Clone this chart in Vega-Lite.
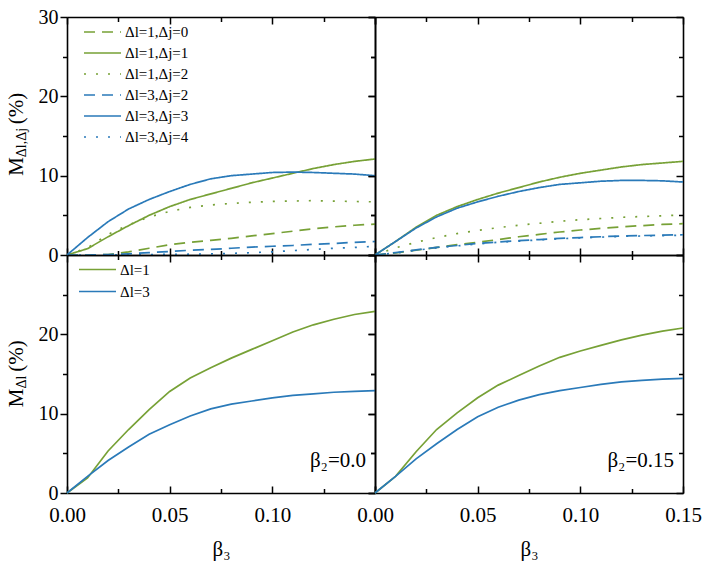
{
  "$schema": "https://vega.github.io/schema/vega-lite/v6.json",
  "background": "white",
  "padding": {"left": 5, "top": 7, "right": 5, "bottom": 5},
  "spacing": 0,
  "bounds": "flush",
  "columns": 2,
  "datasets": {
    "tl": [
      {"s": "Δl=1,Δj=0", "b3": 0, "m": 0}, {"s": "Δl=1,Δj=0", "b3": 0.01, "m": 0}, {"s": "Δl=1,Δj=0", "b3": 0.02, "m": 0.05}, {"s": "Δl=1,Δj=0", "b3": 0.03, "m": 0.4}, {"s": "Δl=1,Δj=0", "b3": 0.04, "m": 0.85}, {"s": "Δl=1,Δj=0", "b3": 0.05, "m": 1.3}, {"s": "Δl=1,Δj=0", "b3": 0.06, "m": 1.6}, {"s": "Δl=1,Δj=0", "b3": 0.07, "m": 1.85}, {"s": "Δl=1,Δj=0", "b3": 0.08, "m": 2.1}, {"s": "Δl=1,Δj=0", "b3": 0.09, "m": 2.4}, {"s": "Δl=1,Δj=0", "b3": 0.1, "m": 2.7}, {"s": "Δl=1,Δj=0", "b3": 0.11, "m": 3.0}, {"s": "Δl=1,Δj=0", "b3": 0.12, "m": 3.3}, {"s": "Δl=1,Δj=0", "b3": 0.13, "m": 3.55}, {"s": "Δl=1,Δj=0", "b3": 0.14, "m": 3.75}, {"s": "Δl=1,Δj=0", "b3": 0.15, "m": 3.9},
      {"s": "Δl=1,Δj=1", "b3": 0, "m": 0}, {"s": "Δl=1,Δj=1", "b3": 0.01, "m": 0.8}, {"s": "Δl=1,Δj=1", "b3": 0.02, "m": 2.3}, {"s": "Δl=1,Δj=1", "b3": 0.03, "m": 3.7}, {"s": "Δl=1,Δj=1", "b3": 0.04, "m": 5.0}, {"s": "Δl=1,Δj=1", "b3": 0.05, "m": 6.1}, {"s": "Δl=1,Δj=1", "b3": 0.06, "m": 7.0}, {"s": "Δl=1,Δj=1", "b3": 0.07, "m": 7.7}, {"s": "Δl=1,Δj=1", "b3": 0.08, "m": 8.4}, {"s": "Δl=1,Δj=1", "b3": 0.09, "m": 9.1}, {"s": "Δl=1,Δj=1", "b3": 0.1, "m": 9.7}, {"s": "Δl=1,Δj=1", "b3": 0.11, "m": 10.3}, {"s": "Δl=1,Δj=1", "b3": 0.12, "m": 10.9}, {"s": "Δl=1,Δj=1", "b3": 0.13, "m": 11.4}, {"s": "Δl=1,Δj=1", "b3": 0.14, "m": 11.8}, {"s": "Δl=1,Δj=1", "b3": 0.15, "m": 12.1},
      {"s": "Δl=1,Δj=2", "b3": 0, "m": 0}, {"s": "Δl=1,Δj=2", "b3": 0.01, "m": 0.9}, {"s": "Δl=1,Δj=2", "b3": 0.02, "m": 2.6}, {"s": "Δl=1,Δj=2", "b3": 0.03, "m": 3.8}, {"s": "Δl=1,Δj=2", "b3": 0.04, "m": 4.8}, {"s": "Δl=1,Δj=2", "b3": 0.05, "m": 5.5}, {"s": "Δl=1,Δj=2", "b3": 0.06, "m": 6.0}, {"s": "Δl=1,Δj=2", "b3": 0.07, "m": 6.3}, {"s": "Δl=1,Δj=2", "b3": 0.08, "m": 6.5}, {"s": "Δl=1,Δj=2", "b3": 0.09, "m": 6.65}, {"s": "Δl=1,Δj=2", "b3": 0.1, "m": 6.75}, {"s": "Δl=1,Δj=2", "b3": 0.11, "m": 6.8}, {"s": "Δl=1,Δj=2", "b3": 0.12, "m": 6.85}, {"s": "Δl=1,Δj=2", "b3": 0.13, "m": 6.8}, {"s": "Δl=1,Δj=2", "b3": 0.14, "m": 6.75}, {"s": "Δl=1,Δj=2", "b3": 0.15, "m": 6.7},
      {"s": "Δl=3,Δj=2", "b3": 0, "m": 0}, {"s": "Δl=3,Δj=2", "b3": 0.01, "m": 0}, {"s": "Δl=3,Δj=2", "b3": 0.02, "m": 0.05}, {"s": "Δl=3,Δj=2", "b3": 0.03, "m": 0.15}, {"s": "Δl=3,Δj=2", "b3": 0.04, "m": 0.3}, {"s": "Δl=3,Δj=2", "b3": 0.05, "m": 0.45}, {"s": "Δl=3,Δj=2", "b3": 0.06, "m": 0.6}, {"s": "Δl=3,Δj=2", "b3": 0.07, "m": 0.7}, {"s": "Δl=3,Δj=2", "b3": 0.08, "m": 0.85}, {"s": "Δl=3,Δj=2", "b3": 0.09, "m": 1.0}, {"s": "Δl=3,Δj=2", "b3": 0.1, "m": 1.1}, {"s": "Δl=3,Δj=2", "b3": 0.11, "m": 1.2}, {"s": "Δl=3,Δj=2", "b3": 0.12, "m": 1.35}, {"s": "Δl=3,Δj=2", "b3": 0.13, "m": 1.45}, {"s": "Δl=3,Δj=2", "b3": 0.14, "m": 1.6}, {"s": "Δl=3,Δj=2", "b3": 0.15, "m": 1.7},
      {"s": "Δl=3,Δj=3", "b3": 0, "m": 0}, {"s": "Δl=3,Δj=3", "b3": 0.01, "m": 2.2}, {"s": "Δl=3,Δj=3", "b3": 0.02, "m": 4.2}, {"s": "Δl=3,Δj=3", "b3": 0.03, "m": 5.8}, {"s": "Δl=3,Δj=3", "b3": 0.04, "m": 7.0}, {"s": "Δl=3,Δj=3", "b3": 0.05, "m": 8.0}, {"s": "Δl=3,Δj=3", "b3": 0.06, "m": 8.9}, {"s": "Δl=3,Δj=3", "b3": 0.07, "m": 9.6}, {"s": "Δl=3,Δj=3", "b3": 0.08, "m": 10.0}, {"s": "Δl=3,Δj=3", "b3": 0.09, "m": 10.2}, {"s": "Δl=3,Δj=3", "b3": 0.1, "m": 10.4}, {"s": "Δl=3,Δj=3", "b3": 0.11, "m": 10.45}, {"s": "Δl=3,Δj=3", "b3": 0.12, "m": 10.4}, {"s": "Δl=3,Δj=3", "b3": 0.13, "m": 10.3}, {"s": "Δl=3,Δj=3", "b3": 0.14, "m": 10.2}, {"s": "Δl=3,Δj=3", "b3": 0.15, "m": 10.0},
      {"s": "Δl=3,Δj=4", "b3": 0, "m": 0}, {"s": "Δl=3,Δj=4", "b3": 0.01, "m": 0}, {"s": "Δl=3,Δj=4", "b3": 0.02, "m": 0}, {"s": "Δl=3,Δj=4", "b3": 0.03, "m": 0.02}, {"s": "Δl=3,Δj=4", "b3": 0.04, "m": 0.05}, {"s": "Δl=3,Δj=4", "b3": 0.05, "m": 0.08}, {"s": "Δl=3,Δj=4", "b3": 0.06, "m": 0.1}, {"s": "Δl=3,Δj=4", "b3": 0.07, "m": 0.15}, {"s": "Δl=3,Δj=4", "b3": 0.08, "m": 0.2}, {"s": "Δl=3,Δj=4", "b3": 0.09, "m": 0.3}, {"s": "Δl=3,Δj=4", "b3": 0.1, "m": 0.4}, {"s": "Δl=3,Δj=4", "b3": 0.11, "m": 0.55}, {"s": "Δl=3,Δj=4", "b3": 0.12, "m": 0.7}, {"s": "Δl=3,Δj=4", "b3": 0.13, "m": 0.85}, {"s": "Δl=3,Δj=4", "b3": 0.14, "m": 0.95}, {"s": "Δl=3,Δj=4", "b3": 0.15, "m": 1.1}
    ],
    "tr": [
      {"s": "Δl=1,Δj=0", "b3": 0, "m": 0}, {"s": "Δl=1,Δj=0", "b3": 0.01, "m": 0.25}, {"s": "Δl=1,Δj=0", "b3": 0.02, "m": 0.6}, {"s": "Δl=1,Δj=0", "b3": 0.03, "m": 0.95}, {"s": "Δl=1,Δj=0", "b3": 0.04, "m": 1.3}, {"s": "Δl=1,Δj=0", "b3": 0.05, "m": 1.6}, {"s": "Δl=1,Δj=0", "b3": 0.06, "m": 1.95}, {"s": "Δl=1,Δj=0", "b3": 0.07, "m": 2.3}, {"s": "Δl=1,Δj=0", "b3": 0.08, "m": 2.6}, {"s": "Δl=1,Δj=0", "b3": 0.09, "m": 2.9}, {"s": "Δl=1,Δj=0", "b3": 0.1, "m": 3.15}, {"s": "Δl=1,Δj=0", "b3": 0.11, "m": 3.35}, {"s": "Δl=1,Δj=0", "b3": 0.12, "m": 3.55}, {"s": "Δl=1,Δj=0", "b3": 0.13, "m": 3.7}, {"s": "Δl=1,Δj=0", "b3": 0.14, "m": 3.85}, {"s": "Δl=1,Δj=0", "b3": 0.15, "m": 3.95},
      {"s": "Δl=1,Δj=1", "b3": 0, "m": 0}, {"s": "Δl=1,Δj=1", "b3": 0.01, "m": 1.7}, {"s": "Δl=1,Δj=1", "b3": 0.02, "m": 3.5}, {"s": "Δl=1,Δj=1", "b3": 0.03, "m": 5.0}, {"s": "Δl=1,Δj=1", "b3": 0.04, "m": 6.1}, {"s": "Δl=1,Δj=1", "b3": 0.05, "m": 7.0}, {"s": "Δl=1,Δj=1", "b3": 0.06, "m": 7.8}, {"s": "Δl=1,Δj=1", "b3": 0.07, "m": 8.5}, {"s": "Δl=1,Δj=1", "b3": 0.08, "m": 9.2}, {"s": "Δl=1,Δj=1", "b3": 0.09, "m": 9.8}, {"s": "Δl=1,Δj=1", "b3": 0.1, "m": 10.3}, {"s": "Δl=1,Δj=1", "b3": 0.11, "m": 10.7}, {"s": "Δl=1,Δj=1", "b3": 0.12, "m": 11.1}, {"s": "Δl=1,Δj=1", "b3": 0.13, "m": 11.4}, {"s": "Δl=1,Δj=1", "b3": 0.14, "m": 11.6}, {"s": "Δl=1,Δj=1", "b3": 0.15, "m": 11.8},
      {"s": "Δl=1,Δj=2", "b3": 0, "m": 0}, {"s": "Δl=1,Δj=2", "b3": 0.01, "m": 0.9}, {"s": "Δl=1,Δj=2", "b3": 0.02, "m": 1.6}, {"s": "Δl=1,Δj=2", "b3": 0.03, "m": 2.2}, {"s": "Δl=1,Δj=2", "b3": 0.04, "m": 2.7}, {"s": "Δl=1,Δj=2", "b3": 0.05, "m": 3.1}, {"s": "Δl=1,Δj=2", "b3": 0.06, "m": 3.45}, {"s": "Δl=1,Δj=2", "b3": 0.07, "m": 3.75}, {"s": "Δl=1,Δj=2", "b3": 0.08, "m": 4.0}, {"s": "Δl=1,Δj=2", "b3": 0.09, "m": 4.25}, {"s": "Δl=1,Δj=2", "b3": 0.1, "m": 4.45}, {"s": "Δl=1,Δj=2", "b3": 0.11, "m": 4.6}, {"s": "Δl=1,Δj=2", "b3": 0.12, "m": 4.75}, {"s": "Δl=1,Δj=2", "b3": 0.13, "m": 4.85}, {"s": "Δl=1,Δj=2", "b3": 0.14, "m": 4.95}, {"s": "Δl=1,Δj=2", "b3": 0.15, "m": 5.05},
      {"s": "Δl=3,Δj=2", "b3": 0, "m": 0}, {"s": "Δl=3,Δj=2", "b3": 0.01, "m": 0.3}, {"s": "Δl=3,Δj=2", "b3": 0.02, "m": 0.65}, {"s": "Δl=3,Δj=2", "b3": 0.03, "m": 0.95}, {"s": "Δl=3,Δj=2", "b3": 0.04, "m": 1.2}, {"s": "Δl=3,Δj=2", "b3": 0.05, "m": 1.45}, {"s": "Δl=3,Δj=2", "b3": 0.06, "m": 1.65}, {"s": "Δl=3,Δj=2", "b3": 0.07, "m": 1.8}, {"s": "Δl=3,Δj=2", "b3": 0.08, "m": 1.95}, {"s": "Δl=3,Δj=2", "b3": 0.09, "m": 2.1}, {"s": "Δl=3,Δj=2", "b3": 0.1, "m": 2.2}, {"s": "Δl=3,Δj=2", "b3": 0.11, "m": 2.3}, {"s": "Δl=3,Δj=2", "b3": 0.12, "m": 2.4}, {"s": "Δl=3,Δj=2", "b3": 0.13, "m": 2.45}, {"s": "Δl=3,Δj=2", "b3": 0.14, "m": 2.5}, {"s": "Δl=3,Δj=2", "b3": 0.15, "m": 2.55},
      {"s": "Δl=3,Δj=3", "b3": 0, "m": 0}, {"s": "Δl=3,Δj=3", "b3": 0.01, "m": 1.7}, {"s": "Δl=3,Δj=3", "b3": 0.02, "m": 3.4}, {"s": "Δl=3,Δj=3", "b3": 0.03, "m": 4.8}, {"s": "Δl=3,Δj=3", "b3": 0.04, "m": 5.9}, {"s": "Δl=3,Δj=3", "b3": 0.05, "m": 6.7}, {"s": "Δl=3,Δj=3", "b3": 0.06, "m": 7.4}, {"s": "Δl=3,Δj=3", "b3": 0.07, "m": 8.0}, {"s": "Δl=3,Δj=3", "b3": 0.08, "m": 8.5}, {"s": "Δl=3,Δj=3", "b3": 0.09, "m": 8.9}, {"s": "Δl=3,Δj=3", "b3": 0.1, "m": 9.1}, {"s": "Δl=3,Δj=3", "b3": 0.11, "m": 9.3}, {"s": "Δl=3,Δj=3", "b3": 0.12, "m": 9.4}, {"s": "Δl=3,Δj=3", "b3": 0.13, "m": 9.4}, {"s": "Δl=3,Δj=3", "b3": 0.14, "m": 9.35}, {"s": "Δl=3,Δj=3", "b3": 0.15, "m": 9.2},
      {"s": "Δl=3,Δj=4", "b3": 0, "m": 0}, {"s": "Δl=3,Δj=4", "b3": 0.01, "m": 0.25}, {"s": "Δl=3,Δj=4", "b3": 0.02, "m": 0.6}, {"s": "Δl=3,Δj=4", "b3": 0.03, "m": 0.9}, {"s": "Δl=3,Δj=4", "b3": 0.04, "m": 1.15}, {"s": "Δl=3,Δj=4", "b3": 0.05, "m": 1.4}, {"s": "Δl=3,Δj=4", "b3": 0.06, "m": 1.6}, {"s": "Δl=3,Δj=4", "b3": 0.07, "m": 1.75}, {"s": "Δl=3,Δj=4", "b3": 0.08, "m": 1.9}, {"s": "Δl=3,Δj=4", "b3": 0.09, "m": 2.05}, {"s": "Δl=3,Δj=4", "b3": 0.1, "m": 2.15}, {"s": "Δl=3,Δj=4", "b3": 0.11, "m": 2.25}, {"s": "Δl=3,Δj=4", "b3": 0.12, "m": 2.35}, {"s": "Δl=3,Δj=4", "b3": 0.13, "m": 2.4}, {"s": "Δl=3,Δj=4", "b3": 0.14, "m": 2.45}, {"s": "Δl=3,Δj=4", "b3": 0.15, "m": 2.5}
    ],
    "bl": [
      {"s": "Δl=1", "b3": 0, "m": 0}, {"s": "Δl=1", "b3": 0.01, "m": 1.9}, {"s": "Δl=1", "b3": 0.02, "m": 5.3}, {"s": "Δl=1", "b3": 0.03, "m": 8.0}, {"s": "Δl=1", "b3": 0.04, "m": 10.5}, {"s": "Δl=1", "b3": 0.05, "m": 12.8}, {"s": "Δl=1", "b3": 0.06, "m": 14.5}, {"s": "Δl=1", "b3": 0.07, "m": 15.8}, {"s": "Δl=1", "b3": 0.08, "m": 17.0}, {"s": "Δl=1", "b3": 0.09, "m": 18.1}, {"s": "Δl=1", "b3": 0.1, "m": 19.2}, {"s": "Δl=1", "b3": 0.11, "m": 20.3}, {"s": "Δl=1", "b3": 0.12, "m": 21.2}, {"s": "Δl=1", "b3": 0.13, "m": 21.9}, {"s": "Δl=1", "b3": 0.14, "m": 22.5}, {"s": "Δl=1", "b3": 0.15, "m": 22.9},
      {"s": "Δl=3", "b3": 0, "m": 0}, {"s": "Δl=3", "b3": 0.01, "m": 2.1}, {"s": "Δl=3", "b3": 0.02, "m": 4.1}, {"s": "Δl=3", "b3": 0.03, "m": 5.8}, {"s": "Δl=3", "b3": 0.04, "m": 7.4}, {"s": "Δl=3", "b3": 0.05, "m": 8.6}, {"s": "Δl=3", "b3": 0.06, "m": 9.7}, {"s": "Δl=3", "b3": 0.07, "m": 10.6}, {"s": "Δl=3", "b3": 0.08, "m": 11.2}, {"s": "Δl=3", "b3": 0.09, "m": 11.6}, {"s": "Δl=3", "b3": 0.1, "m": 12.0}, {"s": "Δl=3", "b3": 0.11, "m": 12.3}, {"s": "Δl=3", "b3": 0.12, "m": 12.5}, {"s": "Δl=3", "b3": 0.13, "m": 12.7}, {"s": "Δl=3", "b3": 0.14, "m": 12.8}, {"s": "Δl=3", "b3": 0.15, "m": 12.9}
    ],
    "br": [
      {"s": "Δl=1", "b3": 0, "m": 0}, {"s": "Δl=1", "b3": 0.01, "m": 2.1}, {"s": "Δl=1", "b3": 0.02, "m": 5.2}, {"s": "Δl=1", "b3": 0.03, "m": 8.0}, {"s": "Δl=1", "b3": 0.04, "m": 10.1}, {"s": "Δl=1", "b3": 0.05, "m": 12.0}, {"s": "Δl=1", "b3": 0.06, "m": 13.6}, {"s": "Δl=1", "b3": 0.07, "m": 14.8}, {"s": "Δl=1", "b3": 0.08, "m": 16.0}, {"s": "Δl=1", "b3": 0.09, "m": 17.1}, {"s": "Δl=1", "b3": 0.1, "m": 17.9}, {"s": "Δl=1", "b3": 0.11, "m": 18.6}, {"s": "Δl=1", "b3": 0.12, "m": 19.3}, {"s": "Δl=1", "b3": 0.13, "m": 19.9}, {"s": "Δl=1", "b3": 0.14, "m": 20.4}, {"s": "Δl=1", "b3": 0.15, "m": 20.8},
      {"s": "Δl=3", "b3": 0, "m": 0}, {"s": "Δl=3", "b3": 0.01, "m": 2.1}, {"s": "Δl=3", "b3": 0.02, "m": 4.3}, {"s": "Δl=3", "b3": 0.03, "m": 6.2}, {"s": "Δl=3", "b3": 0.04, "m": 8.0}, {"s": "Δl=3", "b3": 0.05, "m": 9.6}, {"s": "Δl=3", "b3": 0.06, "m": 10.8}, {"s": "Δl=3", "b3": 0.07, "m": 11.7}, {"s": "Δl=3", "b3": 0.08, "m": 12.4}, {"s": "Δl=3", "b3": 0.09, "m": 12.9}, {"s": "Δl=3", "b3": 0.1, "m": 13.3}, {"s": "Δl=3", "b3": 0.11, "m": 13.7}, {"s": "Δl=3", "b3": 0.12, "m": 14.0}, {"s": "Δl=3", "b3": 0.13, "m": 14.2}, {"s": "Δl=3", "b3": 0.14, "m": 14.35}, {"s": "Δl=3", "b3": 0.15, "m": 14.45}
    ]
  },
  "concat": [
    {
      "width": 308, "height": 238,
      "data": {"name": "tl"},
      "layer": [
        {
          "mark": {"type": "line", "strokeWidth": 1.7},
          "encoding": {
            "x": {"field": "b3", "type": "quantitative", "scale": {"domain": [0, 0.15], "nice": false},
              "axis": {"orient": "bottom", "values": [0, 0.05, 0.1, 0.15], "tickSize": -7, "labels": false, "title": null}},
            "y": {"field": "m", "type": "quantitative", "scale": {"domain": [0, 30], "nice": false},
              "axis": {"orient": "left", "values": [0, 10, 20, 30], "tickSize": 7, "labelPadding": 2, "labelFontSize": 20,
                "title": "M", "titleX": -45, "titleY": 149, "titleAngle": 270, "titleAlign": "center", "titleBaseline": "alphabetic"}},
            "color": {"field": "s", "type": "nominal",
              "scale": {"domain": ["Δl=1,Δj=0", "Δl=1,Δj=1", "Δl=1,Δj=2", "Δl=3,Δj=2", "Δl=3,Δj=3", "Δl=3,Δj=4"],
                "range": ["#77a136", "#77a136", "#77a136", "#2a7ab9", "#2a7ab9", "#2a7ab9"]},
              "legend": {"orient": "none", "legendX": 16, "legendY": 4.5, "title": null, "symbolType": "stroke", "symbolSize": 1369, "symbolStrokeWidth": 1.7,
                "labelFontSize": 15, "labelOffset": 3, "clipHeight": 21, "rowPadding": 0, "padding": 0, "labelLimit": 200}},
            "strokeDash": {"field": "s", "type": "nominal",
              "scale": {"domain": ["Δl=1,Δj=0", "Δl=1,Δj=1", "Δl=1,Δj=2", "Δl=3,Δj=2", "Δl=3,Δj=3", "Δl=3,Δj=4"],
                "range": [[11, 7], [1, 0], [2, 10], [11, 7], [1, 0], [2, 10]]},
              "legend": {"orient": "none", "legendX": 16, "legendY": 4.5, "title": null, "symbolType": "stroke", "symbolSize": 1369, "symbolStrokeWidth": 1.7,
                "labelFontSize": 15, "labelOffset": 3, "clipHeight": 21, "rowPadding": 0, "padding": 0, "labelLimit": 200}}
          }
        },
        {
          "mark": {"type": "point", "opacity": 0, "size": 1},
          "encoding": {
            "x": {"field": "b3", "type": "quantitative", "scale": {"domain": [0, 0.15], "nice": false},
              "axis": {"orient": "top", "values": [0, 0.05, 0.1, 0.15], "tickSize": -7, "labels": false, "title": null}},
            "y": {"field": "m", "type": "quantitative", "scale": {"domain": [0, 30], "nice": false},
              "axis": {"orient": "right", "values": [0, 10, 20, 30], "tickSize": -7, "labels": false, "title": null}}
          }
        },
        {
          "mark": {"type": "point", "opacity": 0, "size": 1},
          "encoding": {
            "x": {"field": "b3", "type": "quantitative", "scale": {"domain": [0, 0.15], "nice": false},
              "axis": {"orient": "bottom", "values": [0.025, 0.075, 0.125], "tickSize": -4.5, "labels": false, "domain": false, "title": null}},
            "y": {"field": "m", "type": "quantitative", "scale": {"domain": [0, 30], "nice": false},
              "axis": {"orient": "left", "values": [5, 15, 25], "tickSize": 4.5, "labels": false, "domain": false,
                "title": "Δl,Δj", "titleFontSize": 14, "titleX": -42, "titleY": 125, "titleAngle": 270, "titleAlign": "center", "titleBaseline": "alphabetic"}}
          }
        },
        {
          "mark": {"type": "point", "opacity": 0, "size": 1},
          "encoding": {
            "x": {"field": "b3", "type": "quantitative", "scale": {"domain": [0, 0.15], "nice": false},
              "axis": {"orient": "top", "values": [0.025, 0.075, 0.125], "tickSize": -4.5, "labels": false, "domain": false, "title": null}},
            "y": {"field": "m", "type": "quantitative", "scale": {"domain": [0, 30], "nice": false},
              "axis": {"orient": "right", "values": [5, 15, 25], "tickSize": -4.5, "labels": false, "domain": false, "title": null}}
          }
        },
        {
          "mark": {"type": "point", "opacity": 0, "size": 1},
          "encoding": {
            "x": {"field": "b3", "type": "quantitative", "scale": {"domain": [0, 0.15], "nice": false}, "axis": null},
            "y": {"field": "m", "type": "quantitative", "scale": {"domain": [0, 30], "nice": false},
              "axis": {"orient": "left", "ticks": false, "labels": false, "domain": false,
                "title": "(%)", "titleX": -45, "titleY": 91, "titleAngle": 270, "titleAlign": "center", "titleBaseline": "alphabetic"}}
          }
        }
      ],
      "resolve": {"axis": {"x": "independent", "y": "independent"}}
    },
    {
      "width": 308, "height": 238,
      "data": {"name": "tr"},
      "layer": [
        {
          "mark": {"type": "line", "strokeWidth": 1.7},
          "encoding": {
            "x": {"field": "b3", "type": "quantitative", "scale": {"domain": [0, 0.15], "nice": false},
              "axis": {"orient": "bottom", "values": [0, 0.05, 0.1, 0.15], "tickSize": -7, "labels": false, "title": null}},
            "y": {"field": "m", "type": "quantitative", "scale": {"domain": [0, 30], "nice": false},
              "axis": {"orient": "left", "values": [0, 10, 20, 30], "tickSize": 7, "labels": false, "title": null}},
            "color": {"field": "s", "type": "nominal",
              "scale": {"domain": ["Δl=1,Δj=0", "Δl=1,Δj=1", "Δl=1,Δj=2", "Δl=3,Δj=2", "Δl=3,Δj=3", "Δl=3,Δj=4"],
                "range": ["#77a136", "#77a136", "#77a136", "#2a7ab9", "#2a7ab9", "#2a7ab9"]},
              "legend": null},
            "strokeDash": {"field": "s", "type": "nominal",
              "scale": {"domain": ["Δl=1,Δj=0", "Δl=1,Δj=1", "Δl=1,Δj=2", "Δl=3,Δj=2", "Δl=3,Δj=3", "Δl=3,Δj=4"],
                "range": [[11, 7], [1, 0], [2, 10], [11, 7], [1, 0], [2, 10]]},
              "legend": null}
          }
        },
        {
          "mark": {"type": "point", "opacity": 0, "size": 1},
          "encoding": {
            "x": {"field": "b3", "type": "quantitative", "scale": {"domain": [0, 0.15], "nice": false},
              "axis": {"orient": "top", "values": [0, 0.05, 0.1, 0.15], "tickSize": -7, "labels": false, "title": null}},
            "y": {"field": "m", "type": "quantitative", "scale": {"domain": [0, 30], "nice": false},
              "axis": {"orient": "right", "values": [0, 10, 20, 30], "tickSize": -7, "labels": false, "title": null}}
          }
        },
        {
          "mark": {"type": "point", "opacity": 0, "size": 1},
          "encoding": {
            "x": {"field": "b3", "type": "quantitative", "scale": {"domain": [0, 0.15], "nice": false},
              "axis": {"orient": "bottom", "values": [0.025, 0.075, 0.125], "tickSize": -4.5, "labels": false, "domain": false, "title": null}},
            "y": {"field": "m", "type": "quantitative", "scale": {"domain": [0, 30], "nice": false},
              "axis": {"orient": "left", "values": [5, 15, 25], "tickSize": 4.5, "labels": false, "domain": false, "title": null}}
          }
        },
        {
          "mark": {"type": "point", "opacity": 0, "size": 1},
          "encoding": {
            "x": {"field": "b3", "type": "quantitative", "scale": {"domain": [0, 0.15], "nice": false},
              "axis": {"orient": "top", "values": [0.025, 0.075, 0.125], "tickSize": -4.5, "labels": false, "domain": false, "title": null}},
            "y": {"field": "m", "type": "quantitative", "scale": {"domain": [0, 30], "nice": false},
              "axis": {"orient": "right", "values": [5, 15, 25], "tickSize": -4.5, "labels": false, "domain": false, "title": null}}
          }
        }
      ],
      "resolve": {"axis": {"x": "independent", "y": "independent"}}
    },
    {
      "width": 308, "height": 238,
      "data": {"name": "bl"},
      "layer": [
        {
          "mark": {"type": "line", "strokeWidth": 1.7},
          "encoding": {
            "x": {"field": "b3", "type": "quantitative", "scale": {"domain": [0, 0.15], "nice": false},
              "axis": {"orient": "bottom", "values": [0, 0.05, 0.1, 0.15], "tickSize": -7, "labelPadding": 18, "format": ".2f",
                "labelExpr": "datum.value > 0.14 ? '' : datum.label",
                "title": "β₃", "titleY": 62, "titleBaseline": "alphabetic"}},
            "y": {"field": "m", "type": "quantitative", "scale": {"domain": [0, 30], "nice": false},
              "axis": {"orient": "left", "values": [0, 10, 20], "tickSize": 7, "labelPadding": 2, "labelFontSize": 20,
                "title": "M", "titleX": -45, "titleY": 142.5, "titleAngle": 270, "titleAlign": "center", "titleBaseline": "alphabetic"}},
            "color": {"field": "s", "type": "nominal",
              "scale": {"domain": ["Δl=1", "Δl=3"], "range": ["#77a136", "#2a7ab9"]},
              "legend": {"orient": "none", "legendX": 11, "legendY": 4, "title": null, "symbolType": "stroke", "symbolSize": 1369, "symbolStrokeWidth": 1.7,
                "labelFontSize": 15, "labelOffset": 3, "clipHeight": 21, "rowPadding": 1, "padding": 0}}
          }
        },
        {
          "mark": {"type": "point", "opacity": 0, "size": 1},
          "encoding": {
            "x": {"field": "b3", "type": "quantitative", "scale": {"domain": [0, 0.15], "nice": false},
              "axis": {"orient": "top", "values": [0, 0.05, 0.1, 0.15], "tickSize": -7, "labels": false, "title": null}},
            "y": {"field": "m", "type": "quantitative", "scale": {"domain": [0, 30], "nice": false},
              "axis": {"orient": "right", "values": [0, 10, 20, 30], "tickSize": -7, "labels": false, "title": null}}
          }
        },
        {
          "mark": {"type": "point", "opacity": 0, "size": 1},
          "encoding": {
            "x": {"field": "b3", "type": "quantitative", "scale": {"domain": [0, 0.15], "nice": false},
              "axis": {"orient": "bottom", "values": [0.025, 0.075, 0.125], "tickSize": -4.5, "labels": false, "domain": false, "title": null}},
            "y": {"field": "m", "type": "quantitative", "scale": {"domain": [0, 30], "nice": false},
              "axis": {"orient": "left", "values": [5, 15, 25], "tickSize": 4.5, "labels": false, "domain": false,
                "title": "Δl", "titleFontSize": 14, "titleX": -42, "titleY": 126.5, "titleAngle": 270, "titleAlign": "center", "titleBaseline": "alphabetic"}}
          }
        },
        {
          "mark": {"type": "point", "opacity": 0, "size": 1},
          "encoding": {
            "x": {"field": "b3", "type": "quantitative", "scale": {"domain": [0, 0.15], "nice": false},
              "axis": {"orient": "top", "values": [0.025, 0.075, 0.125], "tickSize": -4.5, "labels": false, "domain": false, "title": null}},
            "y": {"field": "m", "type": "quantitative", "scale": {"domain": [0, 30], "nice": false},
              "axis": {"orient": "right", "values": [5, 15, 25], "tickSize": -4.5, "labels": false, "domain": false, "title": null}}
          }
        },
        {
          "mark": {"type": "point", "opacity": 0, "size": 1},
          "encoding": {
            "x": {"field": "b3", "type": "quantitative", "scale": {"domain": [0, 0.15], "nice": false}, "axis": null},
            "y": {"field": "m", "type": "quantitative", "scale": {"domain": [0, 30], "nice": false},
              "axis": {"orient": "left", "ticks": false, "labels": false, "domain": false,
                "title": "(%)", "titleX": -45, "titleY": 100.5, "titleAngle": 270, "titleAlign": "center", "titleBaseline": "alphabetic"}}
          }
        },
        {
          "data": {"values": [{"t": "β₂=0.0"}]},
          "mark": {"type": "text", "align": "right", "baseline": "alphabetic", "dx": -9, "fontSize": 21},
          "encoding": {
            "x": {"datum": 0.15, "type": "quantitative", "scale": {"domain": [0, 0.15], "nice": false}, "axis": null},
            "y": {"datum": 3.3, "type": "quantitative", "scale": {"domain": [0, 30], "nice": false}, "axis": null},
            "text": {"field": "t"}
          }
        }
      ],
      "resolve": {"axis": {"x": "independent", "y": "independent"}}
    },
    {
      "width": 308, "height": 238,
      "data": {"name": "br"},
      "layer": [
        {
          "mark": {"type": "line", "strokeWidth": 1.7},
          "encoding": {
            "x": {"field": "b3", "type": "quantitative", "scale": {"domain": [0, 0.15], "nice": false},
              "axis": {"orient": "bottom", "values": [0, 0.05, 0.1, 0.15], "tickSize": -7, "labelPadding": 18, "format": ".2f",
                "title": "β₃", "titleY": 62, "titleBaseline": "alphabetic"}},
            "y": {"field": "m", "type": "quantitative", "scale": {"domain": [0, 30], "nice": false},
              "axis": {"orient": "left", "values": [0, 10, 20, 30], "tickSize": 7, "labels": false, "title": null}},
            "color": {"field": "s", "type": "nominal",
              "scale": {"domain": ["Δl=1", "Δl=3"], "range": ["#77a136", "#2a7ab9"]},
              "legend": null}
          }
        },
        {
          "mark": {"type": "point", "opacity": 0, "size": 1},
          "encoding": {
            "x": {"field": "b3", "type": "quantitative", "scale": {"domain": [0, 0.15], "nice": false},
              "axis": {"orient": "top", "values": [0, 0.05, 0.1, 0.15], "tickSize": -7, "labels": false, "title": null}},
            "y": {"field": "m", "type": "quantitative", "scale": {"domain": [0, 30], "nice": false},
              "axis": {"orient": "right", "values": [0, 10, 20, 30], "tickSize": -7, "labels": false, "title": null}}
          }
        },
        {
          "mark": {"type": "point", "opacity": 0, "size": 1},
          "encoding": {
            "x": {"field": "b3", "type": "quantitative", "scale": {"domain": [0, 0.15], "nice": false},
              "axis": {"orient": "bottom", "values": [0.025, 0.075, 0.125], "tickSize": -4.5, "labels": false, "domain": false, "title": null}},
            "y": {"field": "m", "type": "quantitative", "scale": {"domain": [0, 30], "nice": false},
              "axis": {"orient": "left", "values": [5, 15, 25], "tickSize": 4.5, "labels": false, "domain": false, "title": null}}
          }
        },
        {
          "mark": {"type": "point", "opacity": 0, "size": 1},
          "encoding": {
            "x": {"field": "b3", "type": "quantitative", "scale": {"domain": [0, 0.15], "nice": false},
              "axis": {"orient": "top", "values": [0.025, 0.075, 0.125], "tickSize": -4.5, "labels": false, "domain": false, "title": null}},
            "y": {"field": "m", "type": "quantitative", "scale": {"domain": [0, 30], "nice": false},
              "axis": {"orient": "right", "values": [5, 15, 25], "tickSize": -4.5, "labels": false, "domain": false, "title": null}}
          }
        },
        {
          "data": {"values": [{"t": "β₂=0.15"}]},
          "mark": {"type": "text", "align": "right", "baseline": "alphabetic", "dx": -9, "fontSize": 21},
          "encoding": {
            "x": {"datum": 0.15, "type": "quantitative", "scale": {"domain": [0, 0.15], "nice": false}, "axis": null},
            "y": {"datum": 3.3, "type": "quantitative", "scale": {"domain": [0, 30], "nice": false}, "axis": null},
            "text": {"field": "t"}
          }
        }
      ],
      "resolve": {"axis": {"x": "independent", "y": "independent"}}
    }
  ],
  "resolve": {
    "scale": {"color": "independent", "strokeDash": "independent"},
    "legend": {"color": "independent", "strokeDash": "independent"}
  },
  "config": {
    "font": "Liberation Serif",
    "view": {"stroke": null},
    "axis": {
      "grid": false,
      "domainColor": "black", "domainWidth": 1.6,
      "tickColor": "black", "tickWidth": 1.5,
      "labelColor": "black", "labelFont": "Liberation Serif", "labelFontSize": 21,
      "labelFlush": false, "labelOverlap": false,
      "titleColor": "black", "titleFont": "Liberation Serif", "titleFontSize": 21, "titleFontWeight": "normal"
    },
    "legend": {"labelColor": "black", "labelFont": "Liberation Serif"},
    "text": {"font": "Liberation Serif", "color": "black"}
  }
}
